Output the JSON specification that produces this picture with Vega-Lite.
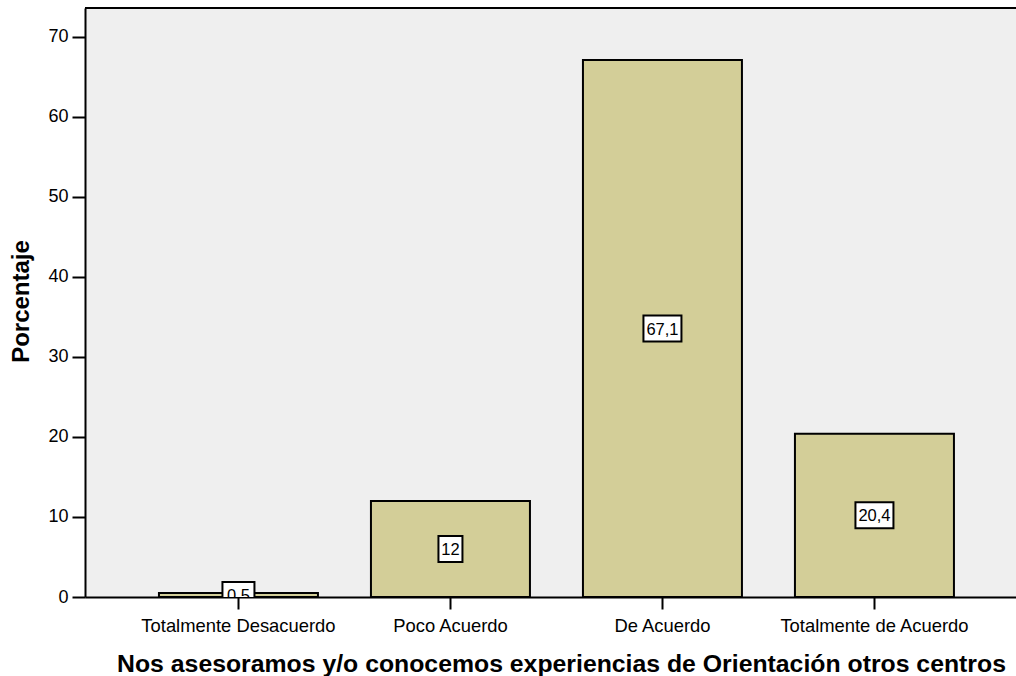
{
  "$schema": "https://vega.github.io/schema/vega-lite/v6.json",
  "autosize": {"type": "none"},
  "padding": {"left": 85, "top": 8, "right": 0, "bottom": 79},
  "width": 940,
  "height": 589,
  "background": "white",
  "config": {
    "view": {"stroke": null, "fill": "#efefef"},
    "font": "Liberation Sans"
  },
  "data": {
    "values": [
      {"cat": "Totalmente Desacuerdo", "pct": 0.5, "label": "0,5"},
      {"cat": "Poco Acuerdo", "pct": 12, "label": "12"},
      {"cat": "De Acuerdo", "pct": 67.1, "label": "67,1"},
      {"cat": "Totalmente de Acuerdo", "pct": 20.4, "label": "20,4"}
    ]
  },
  "encoding": {
    "x": {
      "field": "cat",
      "type": "nominal",
      "sort": null,
      "scale": {"paddingInner": 0.25, "paddingOuter": 0.342, "align": 0.51},
      "axis": {
        "title": "Nos asesoramos y/o conocemos experiencias de Orientación otros centros",
        "titleFont": "Liberation Sans",
        "titleFontSize": 24.8,
        "titleFontWeight": "bold",
        "titleColor": "black",
        "titleX": 476,
        "titleY": 74,
        "titleBaseline": "alphabetic",
        "titleAnchor": "start",
        "titleAlign": "center",
        "labelAngle": 0,
        "labelLimit": 0,
        "labelFont": "Liberation Sans",
        "labelFontSize": 18.4,
        "labelColor": "black",
        "labelPadding": 7,
        "tickSize": 12,
        "tickWidth": 2,
        "tickColor": "black",
        "domainColor": "black",
        "domainWidth": 2
      }
    }
  },
  "layer": [
    {
      "mark": {"type": "bar", "fill": "#d3ce98", "stroke": "black", "strokeWidth": 2},
      "encoding": {
        "y": {
          "field": "pct",
          "type": "quantitative",
          "scale": {"domain": [0, 73.6], "nice": false},
          "axis": {
            "title": "Porcentaje",
            "titleFont": "Liberation Sans",
            "titleFontSize": 24,
            "titleFontWeight": "bold",
            "titleColor": "black",
            "titleX": -57,
            "titleY": 293,
            "titleBaseline": "alphabetic",
            "values": [0, 10, 20, 30, 40, 50, 60, 70],
            "grid": false,
            "domain": true,
            "domainColor": "black",
            "domainWidth": 2,
            "labelFont": "Liberation Sans",
            "labelFontSize": 18,
            "labelColor": "black",
            "labelPadding": 4,
            "tickSize": 13,
            "tickWidth": 2,
            "tickColor": "black"
          }
        }
      }
    },
    {
      "mark": {"type": "rule", "color": "black", "strokeWidth": 2},
      "encoding": {
        "y": {"datum": 73.6, "type": "quantitative"},
        "x": null
      }
    },
    {
      "transform": [{"calculate": "datum.pct / 2", "as": "mid"}],
      "mark": {"type": "point", "filled": true, "fill": "white", "stroke": "black", "strokeWidth": 2, "opacity": 1, "size": 1600, "clip": true},
      "encoding": {
        "y": {"field": "mid", "type": "quantitative"},
        "shape": {
          "field": "label",
          "type": "nominal",
          "legend": null,
          "scale": {
            "domain": ["0,5", "12", "67,1", "20,4"],
            "range": ["M-0.8,-0.65H0.8V0.65H-0.8Z", "M-0.6,-0.65H0.6V0.65H-0.6Z", "M-0.95,-0.65H0.95V0.65H-0.95Z", "M-0.95,-0.65H0.95V0.65H-0.95Z"]
          }
        }
      }
    },
    {
      "transform": [{"calculate": "datum.pct / 2", "as": "mid"}],
      "mark": {"type": "text", "font": "Liberation Sans", "fontSize": 16.5, "color": "black", "baseline": "middle", "align": "center", "dy": 1, "clip": true},
      "encoding": {
        "y": {"field": "mid", "type": "quantitative"},
        "text": {"field": "label"}
      }
    }
  ]
}
